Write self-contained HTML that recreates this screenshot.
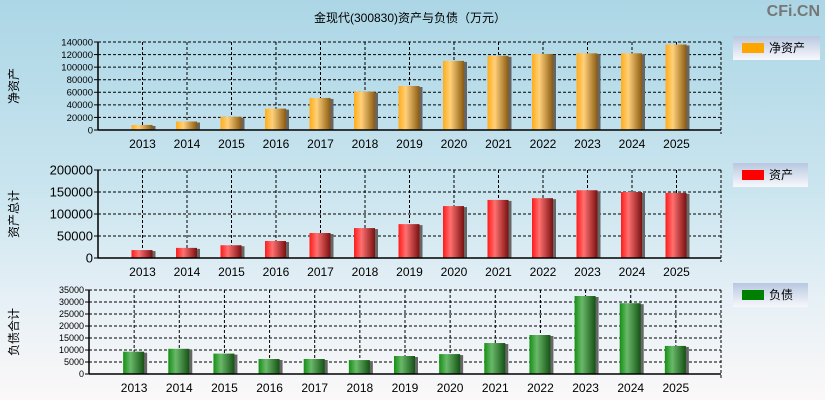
<!DOCTYPE html>
<html><head><meta charset="utf-8"><style>
html,body{margin:0;padding:0;}
body{width:825px;height:400px;overflow:hidden;background:linear-gradient(#acd6e6 0%,#c8e4ee 45%,#e6f0f6 75%,#fbf8f8 100%);font-family:"Liberation Sans","Noto Sans CJK SC",sans-serif;}
svg{position:absolute;left:0;top:0;}
</style></head><body>
<svg id="chart" width="825" height="400">
<defs>
<linearGradient id="gO" x1="0" x2="1"><stop offset="0" stop-color="#ffad1a"/><stop offset="0.35" stop-color="#ffd07a"/><stop offset="1" stop-color="#8a5a10"/></linearGradient>
<linearGradient id="gR" x1="0" x2="1"><stop offset="0" stop-color="#ff1a1a"/><stop offset="0.35" stop-color="#ff7070"/><stop offset="1" stop-color="#7a1010"/></linearGradient>
<linearGradient id="gG" x1="0" x2="1"><stop offset="0" stop-color="#139013"/><stop offset="0.35" stop-color="#6ab86a"/><stop offset="1" stop-color="#145214"/></linearGradient>
<linearGradient id="gL" x1="0" x2="0" y1="0" y2="1"><stop offset="0" stop-color="#b8c8e0"/><stop offset="1" stop-color="#f8f8fc"/></linearGradient>
</defs>
<text x="410" y="22" text-anchor="middle" font-size="12" fill="#000">金现代(300830)资产与负债（万元）</text>
<text x="820" y="16" text-anchor="end" font-size="16" font-weight="bold" fill="#777">CFi.CN</text>
</svg>
<script>
const years=["2013","2014","2015","2016","2017","2018","2019","2020","2021","2022","2023","2024","2025"];
const netAssets=[8000,13500,21000,34000,51000,61000,70000,110000,118000,121000,122000,122000,136000];
const totalAssets=[18000,23000,29000,38600,56800,68000,77000,118000,132000,136000,154000,150000,148000];
const liabilities=[9300,10500,8500,6250,6250,5800,7500,8300,12900,16250,32500,29500,11700];
const ticks1=[0,20000,40000,60000,80000,100000,120000,140000];
const ticks2=[0,50000,100000,150000,200000];
const ticks3=[0,5000,10000,15000,20000,25000,30000,35000];
const svg=document.getElementById('chart');
const NS='http://www.w3.org/2000/svg';
function mk(t,a,p){const e=document.createElementNS(NS,t);for(const k in a)e.setAttribute(k,a[k]);(p||svg).appendChild(e);return e;}
function panel(o){
 const g=mk('g',{});
 
 
 const w=(o.x1-o.x0)/14, max=o.ticks[o.ticks.length-1];
 const y=v=>o.y1-(v/max)*(o.y1-o.y0);
 const x=i=>o.x0+w*(i+1);
 o.ticks.forEach(t=>{
  if(t>0){const l=mk('line',{x1:o.x0,x2:o.x1,y1:y(t),y2:y(t),stroke:'#000','stroke-dasharray':'3,2'},g);
  
  }
  const tk=mk('line',{x1:o.x0-4,x2:o.x0,y1:y(t),y2:y(t),stroke:'#000'},g);
  const tx=mk('text',{x:o.x0-5,y:y(t)+o.fs*0.35,'text-anchor':'end','font-size':o.fs,fill:'#000'},g);
  tx.textContent=t;
  
  
 });
 years.forEach((yr,i)=>{
  const l=mk('line',{x1:x(i),x2:x(i),y1:o.y0,y2:o.y1,stroke:'#000','stroke-dasharray':'3,2'},g);
  
  
 });
 mk('line',{x1:o.x1,x2:o.x1,y1:o.y0,y2:o.y1+4,stroke:'#000','stroke-dasharray':'3,2'},g);
 o.vals.forEach((v,i)=>{
  const top=y(v);
  mk('rect',{x:x(i)-10+2,y:top+1,width:21,height:o.y1-top-1,fill:'#666'},g);
  const b=mk('rect',{x:x(i)-11,y:top,width:21,height:o.y1-top,fill:o.fill},g);
  
  
  const tx=mk('text',{x:x(i),y:o.y1+18,'text-anchor':'middle','font-size':12,fill:'#000'},g);
  tx.textContent=years[i];
  
  
 });
 mk('line',{x1:o.x0,x2:o.x1,y1:o.y1,y2:o.y1,stroke:'#000','stroke-width':1.5},g);
 mk('line',{x1:o.x0,x2:o.x0,y1:o.y0,y2:o.y1,stroke:'#000','stroke-width':1.5},g);
 const ax=mk('text',{transform:`translate(18,${(o.y0+o.y1)/2}) rotate(-90)`,'text-anchor':'middle','font-size':12,fill:'#000'},g);
 ax.textContent=o.label;
 
 
 const lg=mk('g',{},g);
 
 
 mk('rect',{x:733,y:o.ly,width:o.lw,height:24,fill:'url(#gL)'},lg);
 mk('rect',{x:742,y:o.ly+7,width:22,height:10,fill:o.solid},lg);
 const lt=mk('text',{x:769,y:o.ly+16,'font-size':12,fill:'#000'},lg);
 lt.textContent=o.legend;
}
panel({name:'net-assets',x0:98,x1:721,y0:42,y1:130,ticks:ticks1,vals:netAssets,fill:'url(#gO)',solid:'#ffa500',fs:9.5,label:'净资产',legend:'净资产',ly:36,lw:87});
panel({name:'total-assets',x0:98,x1:721,y0:170,y1:258,ticks:ticks2,vals:totalAssets,fill:'url(#gR)',solid:'#ff0000',fs:13,label:'资产总计',legend:'资产',ly:163,lw:75});
panel({name:'liabilities',x0:89,x1:721,y0:290,y1:374,ticks:ticks3,vals:liabilities,fill:'url(#gG)',solid:'#008000',fs:9,label:'负债合计',legend:'负债',ly:283,lw:75});
</script>
</body></html>
